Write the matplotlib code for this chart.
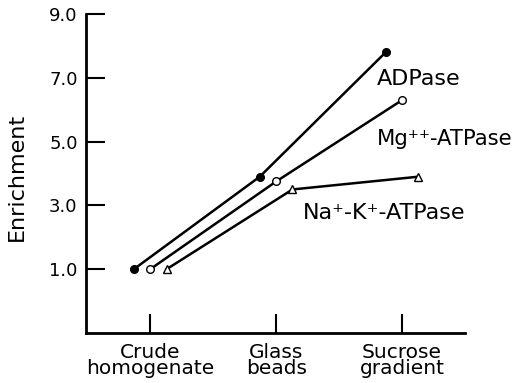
import matplotlib
matplotlib.use("Agg")
import matplotlib.pyplot as plt
import numpy as np

plt.rcParams['font.family'] = ['DejaVu Sans']

categories = ["Crude\nhomogenate", "Glass\nbeads", "Sucrose\ngradient"]
adpase = [1.0, 3.9, 7.8]
mg_atpase = [1.0, 3.75, 6.3]
nak_atpase = [1.0, 3.5, 3.9]
yticks = [1.0, 3.0, 5.0, 7.0, 9.0]

fig = plt.figure(figsize=(5.16, 3.83), dpi=100)
ax = fig.add_axes([86/516, 1-333/383, (465-86)/516, (333-14)/383])

x = np.arange(1, len(categories) + 1)
off = 0.13
ax.plot(x - off, adpase, '-', color='black', lw=1.8, marker='o', ms=5.5,
        mfc='black', mec='black')
ax.plot(x, mg_atpase, '-', color='black', lw=1.8, marker='o', ms=5.5,
        mfc='white', mec='black', mew=1.0)
ax.plot(x + off, nak_atpase, '-', color='black', lw=1.8, marker='^', ms=6,
        mfc='white', mec='black', mew=1.0)

ax.set_xlim(0.49, 3.5)
ax.set_ylim(-1.0, 9.0)
ax.set_xticks(x)
ax.set_xticklabels(categories, fontsize=14.5, linespacing=0.85)
ax.set_yticks(yticks)
ax.set_yticklabels([f"{v:.1f}" for v in yticks], fontsize=13)
ax.tick_params(axis='both', direction='in', length=14, width=1.5, pad=6)
ax.tick_params(axis='x', pad=7)
for s in ['top', 'right']:
    ax.spines[s].set_visible(False)
for s in ['left', 'bottom']:
    ax.spines[s].set_linewidth(2)
ax.set_ylabel("Enrichment", fontsize=16)
ax.yaxis.set_label_coords(-0.155, 0.49)

ax.text(2.80, 6.95, "ADPase", fontsize=16, va='center', ha='left')
ax.text(2.80, 5.08, "Mg\u207a\u207a-ATPase", fontsize=15.2, va='center', ha='left')
ax.text(2.21, 2.76, "Na\u207a-K\u207a-ATPase", fontsize=16, va='center', ha='left')

fig.savefig("out.png", dpi=100)
